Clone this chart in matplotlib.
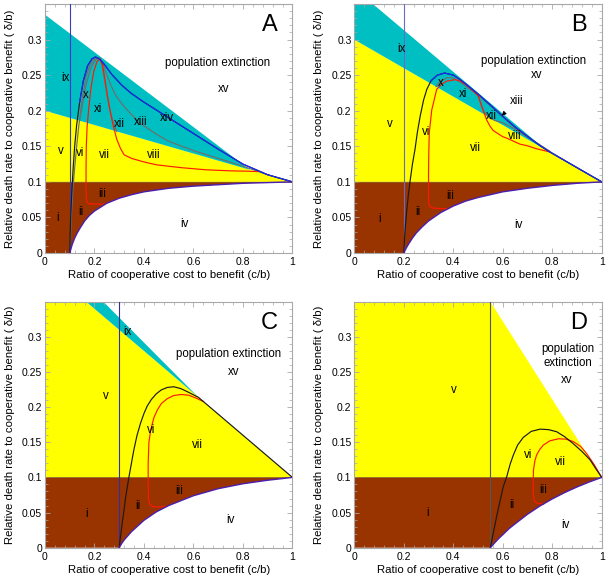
import numpy as np
import matplotlib
matplotlib.use('Agg')
import matplotlib.pyplot as plt
from matplotlib.ticker import AutoMinorLocator

plt.rcParams['font.family'] = ['Liberation Sans', 'DejaVu Sans']

# ---------------- data ----------------
panel_names = ['A', 'B', 'C', 'D']
threshold_x = {'A': 0.1, 'B': 0.2, 'C': 0.3, 'D': 0.55}   # vertical line c/b

# upper edge of yellow region (x, y)
yel_x = {'A': [0, 1], 'B': [0, 1], 'C': [0, 1], 'D': [0, 0.55, 1]}
yel_y = {'A': [0.2, 0.1], 'B': [0.3, 0.1], 'C': [0.4, 0.1], 'D': [0.35, 0.35, 0.1]}

# extinction line bounding the cyan region
ext_x = {'A': [0, 0.828], 'B': [0, 0.774], 'C': [0, 0.62]}
ext_y = {'A': [0.335, 0.117], 'B': [0.372, 0.145], 'C': [0.4335, 0.214]}

# lower boundary (brown / white)
low_x = {
    'A': [0.1, 0.105, 0.11, 0.12, 0.13, 0.14, 0.16, 0.18, 0.2, 0.25, 0.3, 0.35, 0.4, 0.5, 0.6, 0.7, 0.8, 0.9, 1.0],
    'B': [0.2, 0.21, 0.22, 0.235, 0.25, 0.275, 0.3, 0.35, 0.4, 0.45, 0.5, 0.6, 0.7, 0.8, 0.9, 1.0],
    'C': [0.3, 0.31, 0.32, 0.335, 0.35, 0.375, 0.4, 0.45, 0.5, 0.55, 0.6, 0.7, 0.8, 0.9, 1.0],
    'D': [0.55, 0.56, 0.57, 0.585, 0.6, 0.625, 0.65, 0.7, 0.75, 0.8, 0.85, 0.9, 0.95, 1.0],
}
low_y = {
    'A': [0, 0.006, 0.012, 0.021, 0.028, 0.034, 0.045, 0.053, 0.059, 0.07, 0.077, 0.082, 0.086, 0.091, 0.094, 0.096, 0.098, 0.099, 0.1],
    'B': [0, 0.007, 0.013, 0.021, 0.028, 0.037, 0.045, 0.057, 0.066, 0.073, 0.078, 0.086, 0.091, 0.095, 0.098, 0.1],
    'C': [0, 0.006, 0.011, 0.017, 0.023, 0.031, 0.039, 0.051, 0.06, 0.067, 0.074, 0.084, 0.091, 0.096, 0.1],
    'D': [0, 0.004, 0.008, 0.0135, 0.0185, 0.027, 0.034, 0.0476, 0.0593, 0.0694, 0.0784, 0.0864, 0.0936, 0.1],
}

# outer curve (boundary of region vi / x)
outer_x = {
    'A': [0.1, 0.102, 0.105, 0.109, 0.114, 0.12, 0.128, 0.14, 0.155, 0.172, 0.19, 0.204, 0.22, 0.24, 0.27,
          0.31, 0.35, 0.4, 0.45, 0.5, 0.6, 0.7, 0.8, 0.9, 1.0],
    'B': [0.2, 0.203, 0.207, 0.212, 0.218, 0.225, 0.235, 0.245, 0.255, 0.266, 0.28, 0.293, 0.31, 0.335, 0.365,
          0.4, 0.427, 0.46, 0.5, 0.55, 0.6, 0.65, 0.7, 0.75, 0.79, 0.85, 0.9, 0.95, 1.0],
    'C': [0.3, 0.305, 0.312, 0.32, 0.326, 0.339, 0.359, 0.372, 0.386, 0.4, 0.413, 0.43, 0.45, 0.47, 0.494,
          0.52, 0.548, 0.575, 0.6, 0.62, 0.7, 0.8, 0.9, 1.0],
    'D': [0.55, 0.56, 0.575, 0.59, 0.602, 0.616, 0.63, 0.643, 0.66, 0.683, 0.715, 0.751, 0.785, 0.818, 0.85,
          0.885, 0.92, 0.953, 0.975, 1.0],
}
outer_y = {
    'A': [0, 0.03, 0.06, 0.09, 0.12, 0.15, 0.18, 0.212, 0.242, 0.263, 0.273, 0.2755, 0.273, 0.265, 0.251,
          0.236, 0.224, 0.212, 0.201, 0.19, 0.168, 0.146, 0.125, 0.11, 0.1],
    'B': [0, 0.02, 0.04, 0.06, 0.08, 0.1, 0.125, 0.145, 0.17, 0.192, 0.215, 0.23, 0.242, 0.25, 0.253,
          0.25, 0.244, 0.235, 0.2235, 0.208, 0.192, 0.177, 0.164, 0.151, 0.142, 0.13, 0.12, 0.11, 0.1],
    'C': [0, 0.015, 0.035, 0.055, 0.072, 0.1, 0.139, 0.16, 0.177, 0.191, 0.2015, 0.211, 0.219, 0.2245,
          0.228, 0.229, 0.2265, 0.222, 0.2175, 0.214, 0.19, 0.16, 0.13, 0.1],
    'D': [0, 0.018, 0.044, 0.068, 0.0867, 0.101, 0.119, 0.132, 0.146, 0.157, 0.1655, 0.1687, 0.168, 0.165,
          0.158, 0.148, 0.137, 0.125, 0.113, 0.1],
}

# red curve (boundary of regions iii / vii)
red_x = {
    'A': [0.24, 0.2, 0.18, 0.17, 0.167, 0.166, 0.166, 0.167, 0.17, 0.176, 0.185, 0.197, 0.21, 0.222, 0.232,
          0.242, 0.252, 0.263, 0.275, 0.29, 0.305, 0.32, 0.35, 0.4, 0.45, 0.55, 0.65, 0.75, 0.82, 0.86],
    'B': [0.38, 0.35, 0.32, 0.306, 0.301, 0.3, 0.3, 0.301, 0.303, 0.313, 0.333, 0.355, 0.373, 0.407, 0.43,
          0.454, 0.48, 0.501, 0.515, 0.535, 0.549, 0.562, 0.6, 0.616, 0.67, 0.697, 0.737, 0.791],
    'C': [0.49, 0.46, 0.435, 0.423, 0.418, 0.417, 0.417, 0.42, 0.427, 0.44, 0.454, 0.47, 0.494, 0.52, 0.55,
          0.58, 0.61, 0.64],
    'D': [0.765, 0.74, 0.728, 0.724, 0.723, 0.724, 0.73, 0.737, 0.75, 0.764, 0.79, 0.825, 0.855, 0.885,
          0.915, 0.939, 0.97, 1.0],
}
red_y = {
    'A': [0.0685, 0.069, 0.069, 0.071, 0.077, 0.09, 0.12, 0.15, 0.176, 0.2, 0.23, 0.255, 0.269, 0.273, 0.265,
          0.245, 0.222, 0.2, 0.18, 0.16, 0.147, 0.138, 0.133, 0.128, 0.124, 0.12, 0.117, 0.1155, 0.115, 0.1145],
    'B': [0.0625, 0.0625, 0.063, 0.065, 0.07, 0.085, 0.11, 0.14, 0.169, 0.201, 0.23, 0.238, 0.2415, 0.2437,
          0.2415, 0.236, 0.228, 0.2205, 0.206, 0.187, 0.178, 0.172, 0.1635, 0.1615, 0.153, 0.151, 0.1465, 0.142],
    'C': [0.0585, 0.058, 0.0585, 0.062, 0.07, 0.09, 0.12, 0.15, 0.167, 0.185, 0.196, 0.205, 0.212, 0.2165,
          0.218, 0.217, 0.213, 0.208],
    'D': [0.062, 0.063, 0.066, 0.075, 0.09, 0.11, 0.124, 0.132, 0.14, 0.146, 0.152, 0.155, 0.1545, 0.151,
          0.144, 0.134, 0.118, 0.1],
}

# grey curves inside the cyan region
grey_curves = {
    'A': [
        ([0.1, 0.104, 0.108, 0.113, 0.12, 0.128, 0.137, 0.15, 0.164, 0.18, 0.197, 0.217, 0.232, 0.245, 0.265,
          0.285, 0.31, 0.34, 0.386, 0.45, 0.5, 0.6, 0.7, 0.8, 0.9, 1.0],
         [0, 0.03, 0.06, 0.09, 0.12, 0.15, 0.18, 0.215, 0.245, 0.263, 0.272, 0.274, 0.268, 0.255, 0.237,
          0.222, 0.21, 0.198, 0.182, 0.167, 0.157, 0.144, 0.133, 0.122, 0.11, 0.1]),
        ([0.14, 0.15, 0.165, 0.185, 0.205, 0.222, 0.232, 0.242, 0.252, 0.263, 0.275, 0.29],
         [0.186, 0.205, 0.235, 0.26, 0.272, 0.274, 0.262, 0.24, 0.22, 0.2, 0.185, 0.171]),
    ],
    'B': [
        ([0.33, 0.35, 0.375, 0.4, 0.43, 0.46, 0.5, 0.53, 0.562, 0.629, 0.697, 0.791, 0.9, 1.0],
         [0.234, 0.242, 0.2465, 0.246, 0.24, 0.232, 0.2225, 0.213, 0.2035, 0.1825, 0.1635, 0.1425, 0.12, 0.1]),
        ([0.501, 0.512, 0.525, 0.545, 0.57, 0.6, 0.64, 0.7, 0.75, 0.79],
         [0.2225, 0.21, 0.198, 0.19, 0.186, 0.183, 0.176, 0.163, 0.152, 0.143]),
    ],
}

region_labels = {
    'A': [('ix', 0.083, 0.2455), ('x', 0.164, 0.2216), ('xi', 0.215, 0.202), ('xii', 0.299, 0.181),
          ('xiii', 0.386, 0.184), ('xiv', 0.494, 0.190), ('v', 0.063, 0.143), ('vi', 0.144, 0.140),
          ('vii', 0.242, 0.138), ('viii', 0.44, 0.138), ('iii', 0.231, 0.0836), ('ii', 0.144, 0.0577),
          ('i', 0.05, 0.049), ('iv', 0.565, 0.041), ('xv', 0.723, 0.230)],
    'B': [('ix', 0.191, 0.287), ('x', 0.349, 0.2385), ('xi', 0.44, 0.223), ('xii', 0.555, 0.1925),
          ('viii', 0.65, 0.164), ('vii', 0.49, 0.148), ('vi', 0.29, 0.17), ('v', 0.144, 0.181),
          ('iii', 0.387, 0.08), ('ii', 0.255, 0.058), ('i', 0.104, 0.048), ('iv', 0.663, 0.039),
          ('xv', 0.737, 0.250)],
    'C': [('ix', 0.332, 0.307), ('v', 0.245, 0.2156), ('vi', 0.427, 0.167), ('vii', 0.618, 0.146),
          ('iii', 0.544, 0.0806), ('ii', 0.377, 0.059), ('i', 0.167, 0.048), ('iv', 0.75, 0.039),
          ('xv', 0.763, 0.250)],
    'D': [('v', 0.403, 0.224), ('vi', 0.703, 0.132), ('vii', 0.832, 0.122), ('iii', 0.764, 0.082),
          ('ii', 0.637, 0.061), ('i', 0.296, 0.049), ('iv', 0.852, 0.032), ('xv', 0.858, 0.239)],
}
extinction_text = {'A': ('population extinction', 0.696, 0.267),
                   'B': ('population extinction', 0.724, 0.270),
                   'C': ('population extinction', 0.743, 0.275),
                   'D': ('population\nextinction', 0.865, 0.273)}
arrow_label = {'B': ('xiii', 0.656, 0.2136, 0.596, 0.193)}

x_ticks = [0, 0.2, 0.4, 0.6, 0.8, 1]
x_tick_labels = ['0', '0.2', '0.4', '0.6', '0.8', '1']
y_ticks = [0, 0.05, 0.1, 0.15, 0.2, 0.25, 0.3]
y_tick_labels = ['0', '0.05', '0.1', '0.15', '0.2', '0.25', '0.3']
x_label = 'Ratio of cooperative cost to benefit (c/b)'
y_label = 'Relative death rate to cooperative benefit ( \u03b4/b)'

# ---------------- styling / layout ----------------
CYAN = '#00bfc2'
YELLOW = '#ffff00'
BROWN = '#993300'
RED = '#ff1a00'
BLUE = '#1a2aff'
GREY = '#6e6e6e'
LOWC = '#4a1fb0'
SPINE = '#a8a8a8'
LW = 0.85

axes_rect = {'A': [0.0741, 0.5645, 0.4077, 0.4286],
             'B': [0.5837, 0.5645, 0.4076, 0.4286],
             'C': [0.0741, 0.0573, 0.4077, 0.4234],
             'D': [0.5837, 0.0573, 0.4076, 0.4234]}
vline_color = {'A': '#3a3ac8', 'B': '#6a6ac8', 'C': '#30309a', 'D': '#555555'}

fig = plt.figure(figsize=(6.07, 5.81), dpi=100)

for p in panel_names:
    ax = fig.add_axes(axes_rect[p])
    ax.set_xlim(0, 1)
    ax.set_ylim(0, 0.35)

    # yellow
    yx = np.r_[0, yel_x[p]]
    yy = np.r_[0.1, yel_y[p]]
    ax.fill(yx, yy, color=YELLOW, lw=0, zorder=1)
    # cyan
    if p in ext_x:
        cx = np.r_[ext_x[p], 0]
        cy = np.r_[ext_y[p], np.interp(0, yel_x[p], yel_y[p])]
        ax.fill(cx, cy, color=CYAN, lw=0, zorder=1)
    # brown
    bx = np.r_[0, low_x[p], 0]
    by = np.r_[0, low_y[p], 0.1]
    ax.fill(bx, by, color=BROWN, lw=0, zorder=1)

    # vertical threshold line
    ax.plot([threshold_x[p], threshold_x[p]], [0, 0.35], color=vline_color[p], lw=0.8, zorder=3)

    # grey curves
    for gx, gy in grey_curves.get(p, []):
        ax.plot(gx, gy, color=GREY, lw=LW, zorder=3, solid_joinstyle='round')

    # red curve
    ax.plot(red_x[p], red_y[p], color=RED, lw=LW, zorder=4, solid_joinstyle='round')

    # outer curve: blue where above the yellow edge (A, B), black otherwise
    ox = np.array(outer_x[p])
    oy = np.array(outer_y[p])
    ax.plot(ox, oy, color='#1a1a1a', lw=LW, zorder=4, solid_joinstyle='round')
    if p in ('A', 'B'):
        edge = np.interp(ox, yel_x[p], yel_y[p])
        above = np.ma.masked_where(oy < edge - 0.004, oy)
        ax.plot(ox, above, color=BLUE, lw=LW, zorder=5, solid_joinstyle='round')

    # lower boundary
    ax.plot(low_x[p], low_y[p], color=LOWC, lw=1.0, zorder=5, solid_joinstyle='round')
    ax.plot([0, 1], [0.1, 0.1], color='#8a6a20', lw=0.5, zorder=2)

    # texts
    for t, tx, ty in region_labels[p]:
        ax.text(tx, ty, t, fontsize=8.3, ha='center', va='center', zorder=6)
    et, ex, ey = extinction_text[p]
    ax.text(ex, ey, et, fontsize=8.3, ha='center', va='center', linespacing=1.15, zorder=6)
    if p in arrow_label:
        t, tx, ty, axx, ayy = arrow_label[p]
        ax.annotate(t, xy=(axx, ayy), xytext=(tx, ty), fontsize=8.3, ha='center', va='center',
                    arrowprops=dict(arrowstyle='-|>', color='black', lw=0.7, mutation_scale=6,
                                    shrinkA=4, shrinkB=0), zorder=6)
    ax.text(0.908, 0.32, p, fontsize=17, ha='center', va='center', zorder=6)

    # axes
    ax.set_xticks(x_ticks)
    ax.set_xticklabels(x_tick_labels)
    ax.set_yticks(y_ticks)
    ax.set_yticklabels(y_tick_labels)
    ax.xaxis.set_minor_locator(AutoMinorLocator(5))
    ax.yaxis.set_minor_locator(AutoMinorLocator(5))
    ax.tick_params(which='both', direction='in', top=True, right=True, color=SPINE, labelsize=7.5)
    ax.tick_params(which='major', length=3.5, width=0.6)
    ax.tick_params(which='minor', length=2, width=0.5)
    ax.tick_params(axis='y', pad=2)
    ax.tick_params(axis='x', pad=3)
    for s in ax.spines.values():
        s.set_color(SPINE)
        s.set_linewidth(0.8)
    ax.set_xlabel(x_label, fontsize=8.2, labelpad=2)
    ax.set_ylabel(y_label, fontsize=8.2, labelpad=5)

fig.savefig('out.png', dpi=100)
